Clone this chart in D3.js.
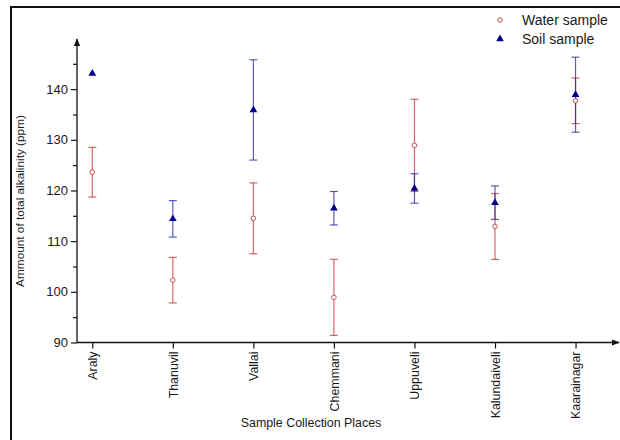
<!DOCTYPE html>
<html>
<head>
<meta charset="utf-8">
<script src="https://cdn.jsdelivr.net/npm/d3@7"></script>
<style>
  body { margin:0; background:#fff; }
  svg { display:block; font-family: Arial, "Liberation Sans", sans-serif; }
</style>
</head>
<body>
<svg id="chart"></svg>
<script>
var places = ["Araly","Thanuvil","Vallai","Chemmani","Uppuveli","Kalundaiveli","Kaarainagar"];
var waterMean = [123.6, 102.3, 114.5, 98.9, 128.9, 112.9, 137.7];
var waterErr  = [4.9, 4.5, 7.0, 7.5, 9.1, 6.5, 4.5];
var soilMean  = [143.1, 114.4, 135.9, 116.5, 120.4, 117.6, 138.9];
var soilErr   = [0, 3.6, 9.9, 3.3, 2.9, 3.3, 7.4];
var yTicks = [90,100,110,120,130,140];
var yMinor = [95,105,115,125,135,145];

var screen = {width:620, height:440};
var svg = d3.select("svg#chart")
            .attr("width",screen.width)
            .attr("height",screen.height);

// outer frame
svg.append("rect")
   .attr("x",11).attr("y",7)
   .attr("width",640).attr("height",460)
   .attr("fill","none").attr("stroke","#111").attr("stroke-width",2);

var xScale = d3.scaleLinear()
               .domain([0.81,7.49])
               .range([77,615]);
var yScale = d3.scaleLinear()
               .domain([90,149.5])
               .range([342.5,41]);

var waterColor = "#c02828";
var soilColor = "#1a1a9c";

// axes with arrows
var defs = svg.append("defs");
defs.append("marker").attr("id","arrow")
    .attr("viewBox","0 0 10 10").attr("refX",9).attr("refY",5)
    .attr("markerWidth",6).attr("markerHeight",6).attr("orient","auto")
    .append("path").attr("d","M0,1 L10,5 L0,9 z").attr("fill","#111");

svg.append("line")
   .attr("x1",xScale.range()[0]).attr("y1",yScale(90))
   .attr("x2",619).attr("y2",yScale(90))
   .attr("stroke","#111").attr("stroke-width",1.3)
   .attr("marker-end","url(#arrow)");
svg.append("line")
   .attr("x1",xScale.range()[0]).attr("y1",yScale(90))
   .attr("x2",xScale.range()[0]).attr("y2",39)
   .attr("stroke","#111").attr("stroke-width",1.3)
   .attr("marker-end","url(#arrow)");

// y axis ticks
var yAxis = d3.axisLeft(yScale).tickValues(yTicks).tickSize(6).tickPadding(3);
var yG = svg.append("g").attr("transform","translate(77,0)").call(yAxis);
yG.select(".domain").remove();
yG.selectAll("text").attr("font-size",13).attr("fill","#1a1a1a");
yG.selectAll("line").attr("stroke","#111").attr("stroke-width",1.2);

var yAxisMinor = d3.axisLeft(yScale).tickValues(yMinor).tickSize(4).tickFormat("");
var yG2 = svg.append("g").attr("transform","translate(77,0)").call(yAxisMinor);
yG2.select(".domain").remove();
yG2.selectAll("line").attr("stroke","#111").attr("stroke-width",1.2);

// x axis ticks
var xAxis = d3.axisBottom(xScale)
              .tickValues(d3.range(1,places.length+1))
              .tickFormat(function(d){return places[d-1];})
              .tickSize(6);
var xG = svg.append("g").attr("transform","translate(0,"+yScale(90)+")").call(xAxis);
xG.select(".domain").remove();
xG.selectAll("line").attr("stroke","#111").attr("stroke-width",1.2);
xG.selectAll("text")
  .attr("font-size",12.4).attr("fill","#1a1a1a")
  .attr("transform","rotate(-90)")
  .attr("text-anchor","end")
  .attr("x",-9).attr("y",0).attr("dy","0.35em");

// axis titles
svg.append("text")
   .attr("x",311).attr("y",427)
   .attr("text-anchor","middle").attr("font-size",12.4).attr("fill","#1a1a1a")
   .text("Sample Collection Places");
svg.append("text")
   .attr("transform","translate(24,201) rotate(-90)")
   .attr("text-anchor","middle").attr("font-size",11.8).attr("fill","#1a1a1a")
   .text("Ammount of total alkalinity (ppm)");

// error bars
var drawErrors = function(means, errs, color, opacity)
{
  var rows = means.map(function(m,i){return {pos:i+1, mean:m, err:errs[i]};})
                  .filter(function(r){return r.err > 0;});
  var g = svg.append("g").attr("stroke",color).attr("stroke-opacity",opacity).attr("stroke-width",1.2);
  var items = g.selectAll("g").data(rows).enter().append("g");
  items.append("line")
       .attr("x1",function(d){return xScale(d.pos);})
       .attr("x2",function(d){return xScale(d.pos);})
       .attr("y1",function(d){return yScale(d.mean+d.err);})
       .attr("y2",function(d){return yScale(d.mean-d.err);});
  [1,-1].forEach(function(s){
    items.append("line")
         .attr("x1",function(d){return xScale(d.pos)-4;})
         .attr("x2",function(d){return xScale(d.pos)+4;})
         .attr("y1",function(d){return yScale(d.mean+s*d.err);})
         .attr("y2",function(d){return yScale(d.mean+s*d.err);});
  });
};
drawErrors(waterMean, waterErr, waterColor, 0.7);
drawErrors(soilMean, soilErr, soilColor, 0.7);

// points
svg.append("g").selectAll("circle")
   .data(waterMean).enter().append("circle")
   .attr("cx",function(d,i){return xScale(i+1);})
   .attr("cy",function(d){return yScale(d);})
   .attr("r",2.3)
   .attr("fill","#fff").attr("stroke",waterColor).attr("stroke-width",0.8);

var tri = d3.symbol().type(d3.symbolTriangle).size(26);
svg.append("g").selectAll("path")
   .data(soilMean).enter().append("path")
   .attr("d",tri)
   .attr("transform",function(d,i){return "translate("+xScale(i+1)+","+yScale(d)+")";})
   .attr("fill","#00008b");

// legend
var legendData = [{name:"Water sample"},{name:"Soil sample"}];
var legend = svg.append("g").attr("transform","translate(500,20)");
var legendLines = legend.selectAll("g").data(legendData).enter().append("g")
                        .attr("transform",function(d,i){return "translate(0,"+(i*19)+")";});
legendLines.filter(function(d,i){return i==0;}).append("circle")
           .attr("r",2.3).attr("fill","#fff").attr("stroke",waterColor).attr("stroke-width",0.8);
legendLines.filter(function(d,i){return i==1;}).append("path")
           .attr("d",tri).attr("fill","#00008b");
legendLines.append("text")
           .attr("x",22).attr("y",0).attr("dy","0.35em")
           .attr("font-size",14).attr("fill","#1a1a1a")
           .text(function(d){return d.name;});
</script>
</body>
</html>
